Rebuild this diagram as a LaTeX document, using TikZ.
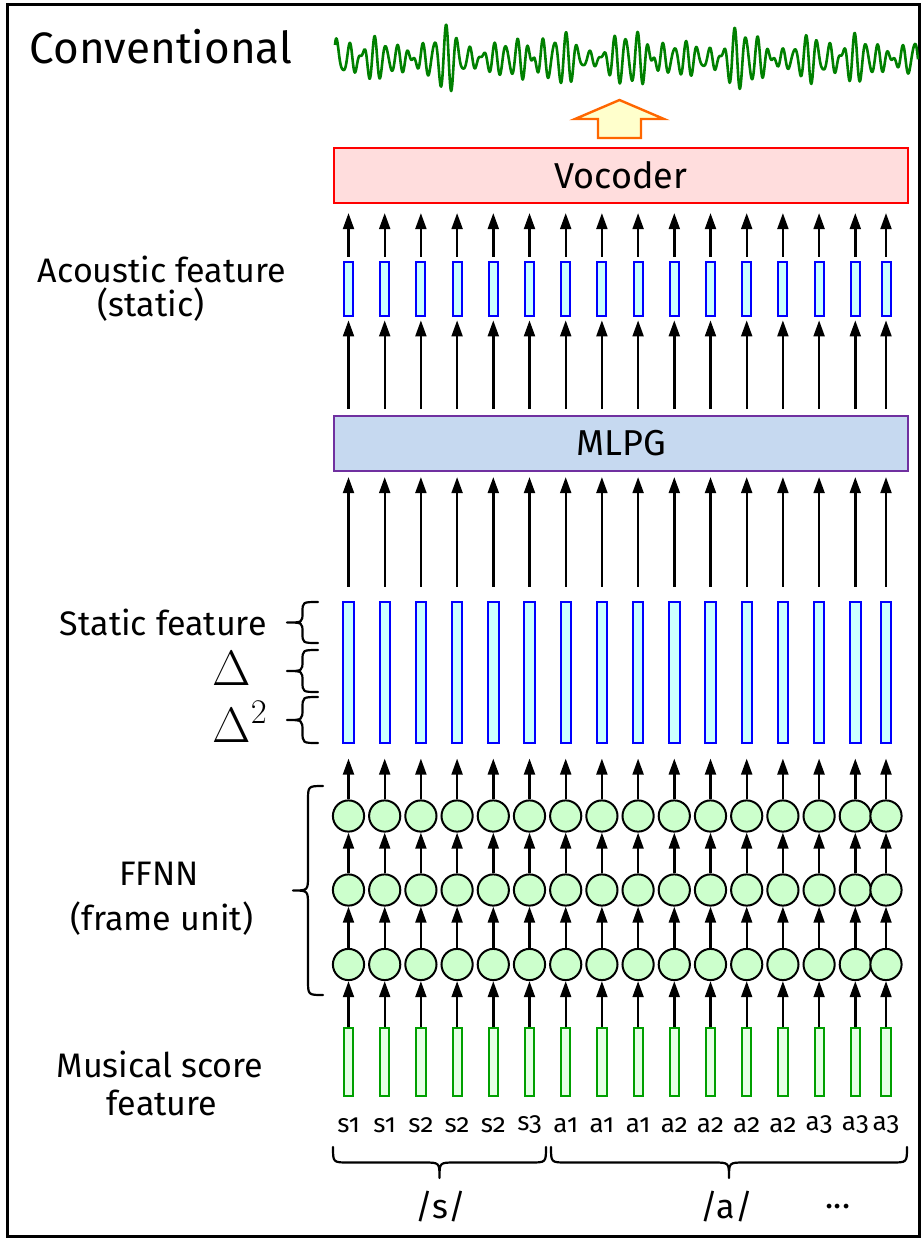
\documentclass[tikz,border=0pt]{standalone}
\usepackage{fontspec}
\setmainfont{Fira Sans}[Numbers=OldStyle]
\usetikzlibrary{arrows.meta,calc}

\definecolor{vocfill}{HTML}{FFDDDD}
\definecolor{vocline}{HTML}{FF0000}
\definecolor{mlpgfill}{HTML}{C6D9F0}
\definecolor{mlpgline}{HTML}{7030A0}
\definecolor{featline}{HTML}{0000FF}
\definecolor{featfill}{HTML}{CCFFFF}
\definecolor{unitfill}{HTML}{CCFFCC}
\definecolor{scoreline}{HTML}{00A000}
\definecolor{scorefill}{HTML}{E6FFE6}
\definecolor{waveline}{HTML}{008000}
\definecolor{bigarrowline}{HTML}{FF6600}
\definecolor{bigarrowfill}{HTML}{FFFFCC}

% curly brace opening to the right, tip on the left
\newcommand\leftcurl[4]{% #1 x of ends, #2 top y, #3 bottom y, #4 width
  \pgfmathsetmacro\curlSpine{#1-#4/2}
  \pgfmathsetmacro\curlTip{#1-#4}
  \pgfmathsetmacro\curlMid{(#2+#3)/2}
  \pgfmathsetmacro\curlR{min(#4/2,(#3-#2)/4)}
  \draw[curl] (#1,#2) .. controls (\curlSpine,#2) .. (\curlSpine,#2+\curlR)
    -- (\curlSpine,\curlMid-\curlR) .. controls (\curlSpine,\curlMid) .. (\curlTip,\curlMid)
    .. controls (\curlSpine,\curlMid) .. (\curlSpine,\curlMid+\curlR)
    -- (\curlSpine,#3-\curlR) .. controls (\curlSpine,#3) .. (#1,#3);}
% curly brace opening upwards, tip at the bottom
\newcommand\downcurl[4]{% #1 y of ends, #2 left x, #3 right x, #4 depth
  \pgfmathsetmacro\curlSpine{#1+#4/2}
  \pgfmathsetmacro\curlTip{#1+#4}
  \pgfmathsetmacro\curlMid{(#2+#3)/2}
  \pgfmathsetmacro\curlR{min(#4/2,(#3-#2)/4)}
  \draw[curl] (#2,#1) .. controls (#2,\curlSpine) .. (#2+\curlR,\curlSpine)
    -- (\curlMid-\curlR,\curlSpine) .. controls (\curlMid,\curlSpine) .. (\curlMid,\curlTip)
    .. controls (\curlMid,\curlSpine) .. (\curlMid+\curlR,\curlSpine)
    -- (#3-\curlR,\curlSpine) .. controls (#3,\curlSpine) .. (#3,#1);}

\begin{document}
\begin{tikzpicture}[x=0.5pt, y=-0.5pt,
  arr/.style={-{Triangle[length=8pt,width=5.4pt]}, line width=1.2pt},
  curl/.style={line width=1.1pt, line cap=round, line join=round},
  lbl/.style={font=\fontsize{17}{20}\selectfont, inner sep=0pt},
  blocklbl/.style={font=\fontsize{18}{21}\selectfont},
  acfeat/.style={draw=featline, fill=featfill, line width=1pt, inner sep=0pt,
    minimum width=4.5pt, minimum height=27.3pt},
  stfeat/.style={draw=featline, fill=featfill, line width=1pt, inner sep=0pt,
    minimum width=5.2pt, minimum height=70.5pt},
  unit/.style={circle, draw=black, fill=unitfill, line width=1pt, inner sep=0pt,
    minimum size=15.6pt},
  score/.style={draw=scoreline, fill=scorefill, line width=1pt, inner sep=0pt,
    minimum width=4.6pt, minimum height=34.2pt},
  framelbl/.style={font=\fontsize{13}{15}\selectfont, inner sep=0pt},
]
\useasboundingbox (0,0) rectangle (923,1239);
\draw[line width=1.5pt] (7.5,4.3) rectangle (919.5,1236.5);

% title and output waveform
\node[font=\fontsize{22}{26}\selectfont, anchor=base, inner sep=0pt] (title) at (161,63) {Conventional};
\draw[waveline, line width=1.3pt, line join=round]
  plot[domain=0:583, samples=1100, variable=\t]
  ({335+\t}, {59 - (25+8*sin(3.7*\t+40))*(0.55*sin(30*mod(\t,12)) + 0.3*sin(36*mod(\t,10)+60) + 0.22*sin(45*mod(\t,8)+110))});

% hollow arrow from the vocoder to the waveform
\draw[bigarrowline, fill=bigarrowfill, line width=1.2pt, line join=miter]
  (598,138) -- (598,119) -- (575,119) -- (619.5,100) -- (664,119) -- (641,119) -- (641,138) -- cycle;

% processing blocks
\node[draw=vocline, fill=vocfill, line width=1pt, minimum width=287pt, minimum height=27.5pt,
  blocklbl] (voc) at (621,175.5) {Vocoder};
\node[draw=mlpgline, fill=mlpgfill, line width=1pt, minimum width=287pt, minimum height=27.5pt,
  blocklbl] (mlpg) at (621,443.5) {MLPG};

% one column per frame
\foreach \i/\fl in {1/s1,2/s1,3/s2,4/s2,5/s2,6/s3,7/a1,8/a1,9/a1,10/a2,11/a2,12/a2,13/a2,14/a3,15/a3,16/a3} {
  \pgfmathsetmacro\cx{\i<16 ? 348.5+36.2*(\i-1) : 886}
  \node[acfeat] (ac\i) at (\cx,289) {};
  \node[stfeat] (st\i) at (\cx,672) {};
  \node[unit] (ua\i) at (\cx,816) {};
  \node[unit] (ub\i) at (\cx,890) {};
  \node[unit] (uc\i) at (\cx,964.5) {};
  \node[score] (sc\i) at (\cx,1062) {};
  \node[framelbl] (fl\i) at (\cx,1125) {\fl};
  \draw[arr, shorten <=2pt, shorten >=4.5pt] (ac\i.north) -- (ac\i.north |- voc.south);
  \draw[arr, shorten <=3pt, shorten >=1.5pt] (ac\i.south |- mlpg.north) -- (ac\i.south);
  \draw[arr, shorten <=7pt, shorten >=2.5pt] (st\i.north) -- (st\i.north |- mlpg.south);
  \draw[arr, shorten >=7.5pt] (ua\i.north) -- (st\i.south);
  \draw[arr] (ub\i.north) -- (ua\i.south);
  \draw[arr] (uc\i.north) -- (ub\i.south);
  \draw[arr] (sc\i.north) -- (uc\i.south);
}

% layer labels
\node[lbl, anchor=base] (aclbl) at (162,282) {Acoustic feature};
\node[lbl, anchor=base] (aclbl2) at (151,316) {(static)};
\node[lbl, anchor=base east] (stlbl) at (267,635) {Static feature};
\node[anchor=base west, inner sep=0pt, font=\fontsize{24}{28}\selectfont] (dlbl) at (212,685) {$\Delta$};
\node[anchor=base west, inner sep=0pt, font=\fontsize{24}{28}\selectfont] (ddlbl) at (212,742) {$\Delta^2$};
\node[lbl, anchor=base] (nnlbl) at (159,885) {FFNN};
\node[lbl, anchor=base] (nnlbl2) at (162,930) {(frame unit)};
\node[lbl, anchor=base] (sclbl) at (160,1077) {Musical score};
\node[lbl, anchor=base] (sclbl2) at (162,1115) {feature};

% braces
\leftcurl{318}{602}{643}{31}
\leftcurl{318}{650}{692}{31}
\leftcurl{318}{697}{743}{31}
\leftcurl{323}{786}{995}{30}
\downcurl{1147}{333}{546}{31}
\downcurl{1147}{551}{907}{31}

% phoneme labels
\node[lbl] (phs) at (441,1207) {/s/};
\node[lbl] (pha) at (727,1207) {/a/};
\node[lbl] (dots) at (838,1207) {...};
\end{tikzpicture}
\end{document}
